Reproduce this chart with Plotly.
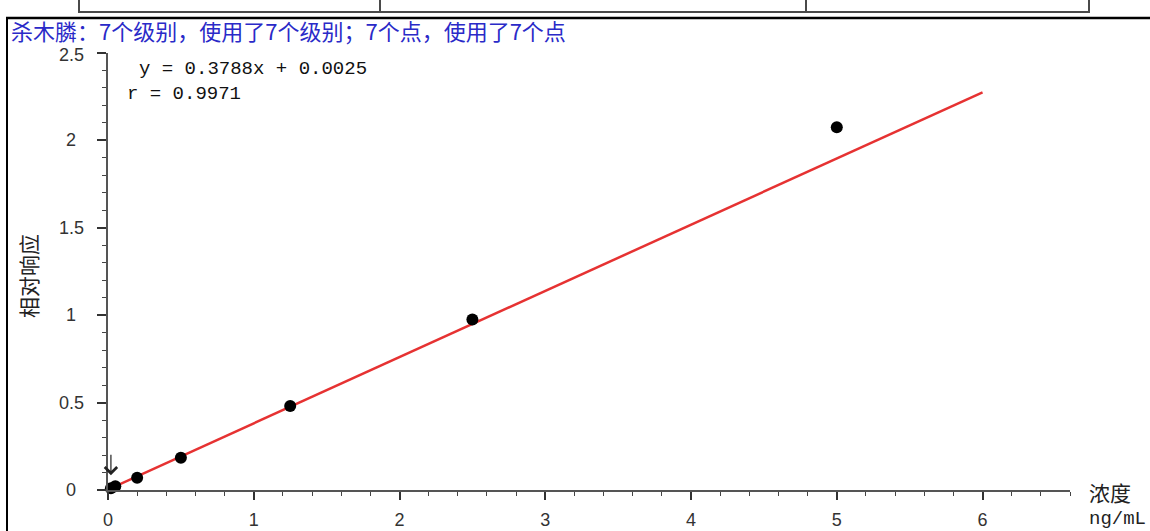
import plotly.graph_objects as go

# Calibration levels (ng/mL) and relative responses
conc = [0.02, 0.05, 0.2, 0.5, 1.25, 2.5, 5.0]
resp = [0.010, 0.022, 0.070, 0.185, 0.480, 0.975, 2.075]

# Linear fit parameters
slope = 0.3788
intercept = 0.0025
r_value = 0.9971
fit_x = [0.0, 6.0]
fit_y = [slope * v + intercept for v in fit_x]

x_ticks = [0, 1, 2, 3, 4, 5, 6]
y_ticks = [0, 0.5, 1, 1.5, 2, 2.5]
y_tick_text = ["0", "0.5", "1", "1.5", "2", "2.5"]

title_text = "杀木膦：7个级别，使用了7个级别；7个点，使用了7个点"
y_title = "相对响应"
x_title = "浓度"
x_unit = "ng/mL"

W, H = 1150, 531
L, R, T, B = 108, 80, 53, 41
PW, PH = W - L - R, H - T - B


def px(xp):
    return (xp - L) / PW


def py(yp):
    return (H - B - yp) / PH


fig = go.Figure()

fig.add_trace(go.Scatter(
    x=fit_x, y=fit_y, mode="lines",
    line=dict(color="#e63232", width=2.5),
    hoverinfo="skip", showlegend=False,
))
fig.add_trace(go.Scatter(
    x=conc, y=resp, mode="markers",
    marker=dict(color="black", size=12),
    cliponaxis=False, showlegend=False,
))

tick_font = dict(family="Liberation Sans, Arial", size=18, color="#333333")

fig.update_xaxes(
    range=[0, 6.6], showgrid=False, zeroline=False,
    showline=True, linecolor="#555555", linewidth=2,
    tickmode="array", tickvals=x_ticks,
    ticks="outside", ticklen=8, tickwidth=1.5, tickcolor="#333333",
    tickfont=tick_font, ticklabelstandoff=4,
    minor=dict(dtick=0.2, ticks="outside", ticklen=4, tickwidth=1.2, tickcolor="#444444"),
)
fig.update_yaxes(
    range=[0, 2.5], showgrid=False, zeroline=False,
    showline=True, linecolor="#555555", linewidth=2,
    tickmode="array", tickvals=y_ticks, showticklabels=False,
    ticks="outside", ticklen=9, tickwidth=1.5, tickcolor="#333333",
    minor=dict(dtick=0.1, ticks="outside", ticklen=4, tickwidth=1.2, tickcolor="#444444"),
)

annotations = []
# Centered y tick labels (the top one nudged down clear of the heading)
for v, t in zip(y_ticks, y_tick_text):
    annotations.append(dict(
        xref="paper", yref="y", x=0, y=v, xshift=-37,
        yshift=-2 if v == y_ticks[-1] else 0,
        text=t, showarrow=False, xanchor="center", yanchor="middle",
        font=tick_font,
    ))

annotations += [
    dict(xref="paper", yref="paper", x=px(9), y=py(30), text=title_text,
         showarrow=False, xanchor="left", yanchor="middle",
         font=dict(family="Noto Sans CJK SC", size=22, color="#2a2ac8")),
    dict(xref="paper", yref="paper", x=px(137), y=py(69),
         text=f"y = {slope:.4f}x + {intercept:.4f}",
         showarrow=False, xanchor="left", yanchor="middle",
         font=dict(family="Liberation Mono", size=19, color="#111111")),
    dict(xref="paper", yref="paper", x=px(125), y=py(94),
         text=f"r = {r_value:.4f}",
         showarrow=False, xanchor="left", yanchor="middle",
         font=dict(family="Liberation Mono", size=19, color="#111111")),
    dict(xref="paper", yref="paper", x=px(28), y=py(276), text=y_title,
         textangle=-90, showarrow=False, xanchor="center", yanchor="middle",
         font=dict(family="Noto Sans CJK SC", size=21, color="#222222")),
    dict(xref="paper", yref="paper", x=px(1087), y=py(492), text=x_title,
         showarrow=False, xanchor="left", yanchor="middle",
         font=dict(family="Noto Sans CJK SC", size=21, color="#222222")),
    dict(xref="paper", yref="paper", x=px(1087), y=py(519), text=x_unit,
         showarrow=False, xanchor="left", yanchor="middle",
         font=dict(family="Liberation Mono", size=19, color="#222222")),
    # Marker pointing at the lowest calibration level
    dict(xref="x", yref="y", x=conc[0], y=0.085, ax=0, ay=-22,
         text="", showarrow=True, arrowhead=4, arrowsize=2,
         arrowwidth=1.2, arrowcolor="#222222"),
]

line_grey = dict(color="#4a4a4a", width=2)
shapes = [
    # table row above the chart
    dict(type="rect", xref="paper", yref="paper",
         x0=px(79), x1=px(1089), y0=py(-5), y1=py(12), line=line_grey),
    dict(type="line", xref="paper", yref="paper",
         x0=px(380), x1=px(380), y0=py(-5), y1=py(12), line=line_grey),
    dict(type="line", xref="paper", yref="paper",
         x0=px(806), x1=px(806), y0=py(-5), y1=py(12), line=line_grey),
    # panel frame
    dict(type="line", xref="paper", yref="paper",
         x0=px(6), x1=px(1152), y0=py(18), y1=py(18),
         line=dict(color="black", width=2.5)),
    dict(type="line", xref="paper", yref="paper",
         x0=px(7), x1=px(7), y0=py(18), y1=py(535),
         line=dict(color="black", width=2)),
]

fig.update_layout(
    width=W, height=H,
    margin=dict(l=L, r=R, t=T, b=B, autoexpand=False),
    paper_bgcolor="white", plot_bgcolor="white",
    showlegend=False,
    annotations=annotations, shapes=shapes,
)

fig.write_html("out.html")
